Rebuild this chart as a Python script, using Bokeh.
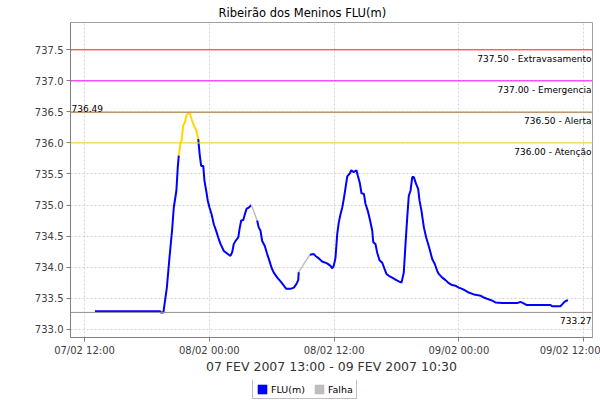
import pandas as pd
from bokeh.plotting import figure
from bokeh.layouts import column
from bokeh.models import (Range1d, FixedTicker, PrintfTickFormatter, DatetimeTickFormatter,
                          Span, Label, Legend, LegendItem, ColumnDataSource, Title)
from bokeh.embed import file_html
from bokeh.resources import INLINE

# ---------------- data ----------------
times = [
    "07 13:00", "07 19:15", "07 19:20", "07 19:35", "07 19:55", "07 20:10", "07 20:25", "07 20:35",
    "07 20:50", "07 20:58", "07 21:04", "07 21:14", "07 21:20", "07 21:29", "07 21:39", "07 21:48",
    "07 21:58", "07 22:08", "07 22:17", "07 22:27", "07 22:36", "07 22:46", "07 22:56", "07 23:05",
    "07 23:13", "07 23:25", "07 23:32", "07 23:42", "07 23:51", "08 00:01", "08 00:13", "08 00:26",
    "08 00:40", "08 00:51", "08 01:05", "08 01:24", "08 01:43", "08 02:02", "08 02:12", "08 02:21",
    "08 02:31", "08 02:47", "08 02:56", "08 03:04", "08 03:16", "08 03:25", "08 03:35", "08 03:48",
    "08 04:03", "08 04:36", "08 04:45", "08 04:55", "08 05:05", "08 05:20", "08 05:34", "08 05:47",
    "08 05:59", "08 06:12", "08 06:32", "08 06:51", "08 07:10", "08 07:24", "08 07:49", "08 08:08",
    "08 08:23", "08 08:33", "08 08:36", "08 09:40", "08 10:03", "08 10:13", "08 10:32", "08 10:51",
    "08 11:20", "08 11:39", "08 11:49", "08 11:58", "08 12:08", "08 12:18", "08 12:27", "08 12:37",
    "08 12:47", "08 12:56", "08 13:06", "08 13:16", "08 13:31", "08 13:39", "08 13:53", "08 14:09",
    "08 14:17", "08 14:28", "08 14:38", "08 14:52", "08 15:01", "08 15:14", "08 15:26", "08 15:40",
    "08 15:46", "08 15:59", "08 16:08", "08 16:22", "08 16:38", "08 16:51", "08 17:02", "08 17:16",
    "08 17:35", "08 17:54", "08 18:13", "08 18:29", "08 18:42", "08 18:52", "08 19:02", "08 19:11",
    "08 19:21", "08 19:31", "08 19:40", "08 19:53", "08 20:05", "08 20:13", "08 20:24", "08 20:38",
    "08 20:51", "08 21:06", "08 21:16", "08 21:26", "08 21:41", "08 21:55", "08 22:04", "08 22:24",
    "08 22:43", "08 23:02", "08 23:21", "08 23:40", "08 23:59", "09 00:19", "09 00:38", "09 00:57",
    "09 01:26", "09 01:45", "09 02:05", "09 02:24", "09 02:43", "09 03:12", "09 03:31", "09 04:10",
    "09 05:36", "09 05:55", "09 06:11", "09 06:30", "09 08:49", "09 08:58", "09 09:46", "09 09:56",
    "09 10:09", "09 10:21", "09 10:30",
]
level = [
    733.29, 733.29, 733.27, 733.27, 733.67, 734.15, 734.59, 734.96,
    735.23, 735.61, 735.80, 736.00, 736.04, 736.28, 736.33, 736.44,
    736.48, 736.49, 736.39, 736.31, 736.25, 736.20, 736.06, 735.80,
    735.63, 735.63, 735.39, 735.23, 735.07, 734.96, 734.85, 734.69,
    734.58, 734.48, 734.37, 734.26, 734.22, 734.18, 734.24, 734.37,
    734.42, 734.48, 734.64, 734.75, 734.76, 734.85, 734.94, 734.96,
    735.00, 734.75, 734.64, 734.59, 734.42, 734.34, 734.21, 734.10,
    733.99, 733.91, 733.83, 733.77, 733.70, 733.65, 733.65, 733.67,
    733.73, 733.79, 733.92, 734.20, 734.21, 734.18, 734.14, 734.09,
    734.06, 734.02, 733.98, 734.02, 734.15, 734.53, 734.72, 734.85,
    734.96, 735.10, 735.28, 735.46, 735.51, 735.56, 735.53, 735.56,
    735.47, 735.36, 735.19, 735.18, 735.02, 734.91, 734.77, 734.59,
    734.40, 734.37, 734.24, 734.11, 734.07, 733.97, 733.89, 733.86,
    733.83, 733.80, 733.77, 733.75, 733.91, 734.37, 734.80, 735.15,
    735.23, 735.45, 735.45, 735.34, 735.26, 735.07, 734.91, 734.64,
    734.48, 734.34, 734.24, 734.13, 734.05, 733.94, 733.89, 733.83,
    733.79, 733.74, 733.71, 733.70, 733.67, 733.65, 733.62, 733.59,
    733.56, 733.55, 733.54, 733.51, 733.49, 733.46, 733.43, 733.42,
    733.42, 733.44, 733.42, 733.39, 733.39, 733.37, 733.37, 733.40,
    733.44, 733.46, 733.46,
]
# segments (ending at these times) that were gap-filled ("Falha")
falha_end = ["08 04:36", "08 09:40"]

limit_values = [737.5, 737.0, 736.5, 736.0]
limit_names = ["Extravasamento", "Emergencia", "Alerta", "Atenção"]
limit_colors = ["#FF2020", "#FF00FF", "#FFA040", "#FFD800"]

y_ticks = [733.0, 733.5, 734.0, 734.5, 735.0, 735.5, 736.0, 736.5, 737.0, 737.5]
x_ticks = ["2007-02-07 12:00", "2007-02-08 00:00", "2007-02-08 12:00",
           "2007-02-09 00:00", "2007-02-09 12:00"]

title_text = "Ribeirão dos Meninos FLU(m)"
period_text = "07 FEV 2007 13:00 - 09 FEV 2007 10:30"
legend_labels = ["FLU(m)", "Falha"]

# ---------------- helpers ----------------
EPOCH = pd.Timestamp("1970-01-01")


def to_ms(s):
    return (pd.Timestamp(s) - EPOCH) / pd.Timedelta(milliseconds=1)


xms = [to_ms("2007-02-" + t) for t in times]
alert_level = limit_values[3]

BLUE = "#0000FF"
GRAY = "#BEBEBE"
YEL = limit_colors[3]


def seg_kind(i):
    if times[i] in falha_end:
        return "falha"
    if level[i] >= alert_level:
        return "alerta"
    return "normal"


kind_color = {"normal": BLUE, "alerta": YEL, "falha": GRAY}
kind_width = {"normal": 2.0, "alerta": 2.0, "falha": 1.5}

runs = []
cur = None
for i in range(1, len(times)):
    k = seg_kind(i)
    if cur is None or cur["k"] != k:
        cur = {"k": k, "x": [xms[i - 1]], "y": [level[i - 1]]}
        runs.append(cur)
    cur["x"].append(xms[i])
    cur["y"].append(level[i])

src = ColumnDataSource(dict(
    xs=[r["x"] for r in runs],
    ys=[r["y"] for r in runs],
    color=[kind_color[r["k"]] for r in runs],
    width=[kind_width[r["k"]] for r in runs],
))

# ---------------- main figure ----------------
FONT = "DejaVu Sans"
p = figure(width=600, height=380, output_backend="svg", toolbar_location=None,
           x_axis_type="datetime",
           x_range=Range1d(start=to_ms("2007-02-07 10:39"), end=to_ms("2007-02-09 12:51")),
           y_range=Range1d(start=732.866, end=737.94),
           min_border_left=70, min_border_right=8, min_border_top=22, min_border_bottom=43)
p.background_fill_color = "white"
p.border_fill_color = "white"
p.outline_line_color = "#A0A0A0"

p.title = Title(text=title_text, align="left", offset=148, standoff=6,
                text_font=FONT, text_font_size="11.5px", text_font_style="normal",
                text_color="#000000")

# grids
for g in (p.xgrid, p.ygrid):
    g.grid_line_color = "#D4D4D4"
    g.grid_line_dash = "2 2"
    g.grid_line_width = 1

# axes
p.yaxis.ticker = FixedTicker(ticks=y_ticks)
p.yaxis.formatter = PrintfTickFormatter(format="%.1f")
p.xaxis.ticker = FixedTicker(ticks=[to_ms(t) for t in x_ticks])
fmt = "%d/%m %H:%M"
p.xaxis.formatter = DatetimeTickFormatter(milliseconds=fmt, seconds=fmt, minsec=fmt, minutes=fmt,
                                          hourmin=fmt, hours=fmt, days=fmt, months=fmt, years=fmt)
for ax in (p.xaxis, p.yaxis):
    ax.axis_line_color = "#808080"
    ax.major_tick_line_color = "#808080"
    ax.major_tick_out = 4
    ax.major_tick_in = 0
    ax.minor_tick_line_color = None
    ax.major_label_text_font = FONT
    ax.major_label_text_font_size = "10px"
    ax.major_label_text_color = "#404040"
p.yaxis.major_label_standoff = 3
p.xaxis.major_label_standoff = 3
p.xaxis.axis_label = period_text
p.xaxis.axis_label_text_font = FONT
p.xaxis.axis_label_text_font_size = "12.5px"
p.xaxis.axis_label_text_font_style = "normal"
p.xaxis.axis_label_text_color = "#333333"
p.xaxis.axis_label_standoff = 0

# max / min markers (drawn first, under the limit lines)
vmax = max(level)
vmin = min(level)
p.add_layout(Span(location=vmax, dimension="width", line_color="#909090", line_width=1))
p.add_layout(Span(location=vmin, dimension="width", line_color="#909090", line_width=1))

# threshold lines
for v, name, c in zip(limit_values, limit_names, limit_colors):
    p.add_layout(Span(location=v, dimension="width", line_color=c, line_width=1))
    p.add_layout(Label(x=521, y=v, x_units="screen", y_units="data",
                       text=f"{v:.2f} - {name}", text_align="right", text_baseline="top",
                       y_offset=-4, text_font=FONT, text_font_size="9px", text_color="#000000"))

p.add_layout(Label(x=1, y=vmax, x_units="screen", y_units="data", text=f"{vmax:.2f}",
                   text_align="left", text_baseline="alphabetic", y_offset=4,
                   text_font=FONT, text_font_size="9px", text_color="#000000"))
p.add_layout(Label(x=521, y=vmin, x_units="screen", y_units="data", text=f"{vmin:.2f}",
                   text_align="right", text_baseline="top", y_offset=-5,
                   text_font=FONT, text_font_size="9px", text_color="#000000"))

# data line
p.multi_line(xs="xs", ys="ys", line_color="color", line_width="width", source=src)

# ---------------- legend strip ----------------
leg = figure(width=600, height=20, output_backend="svg", toolbar_location=None,
             x_range=Range1d(0, 1), y_range=Range1d(0, 1),
             x_axis_location=None, y_axis_location=None,
             min_border_left=0, min_border_right=0, min_border_top=0, min_border_bottom=0)
leg.grid.visible = False
leg.outline_line_color = None
leg.background_fill_color = "white"
leg.border_fill_color = "white"
# swatch renderers: one quad each, placed outside the visible range (legend only)
r_flu = leg.quad(left=[2], right=[3], bottom=[2], top=[3], fill_color=BLUE, line_color=None)
r_falha = leg.quad(left=[2], right=[3], bottom=[2], top=[3], fill_color=GRAY, line_color=None)
legend = Legend(items=[LegendItem(label=legend_labels[0], renderers=[r_flu]),
                       LegendItem(label=legend_labels[1], renderers=[r_falha])],
                orientation="horizontal", location=(182, 1),
                glyph_width=12, glyph_height=12, label_height=12, label_standoff=3,
                spacing=8, padding=3, margin=0,
                label_text_font=FONT, label_text_font_size="9.5px", label_text_color="#000000",
                border_line_color="#808080", border_line_width=1,
                background_fill_color="white", background_fill_alpha=1.0)
leg.add_layout(legend)

open("out.html", "w").write(file_html(column(p, leg, spacing=0), INLINE))
